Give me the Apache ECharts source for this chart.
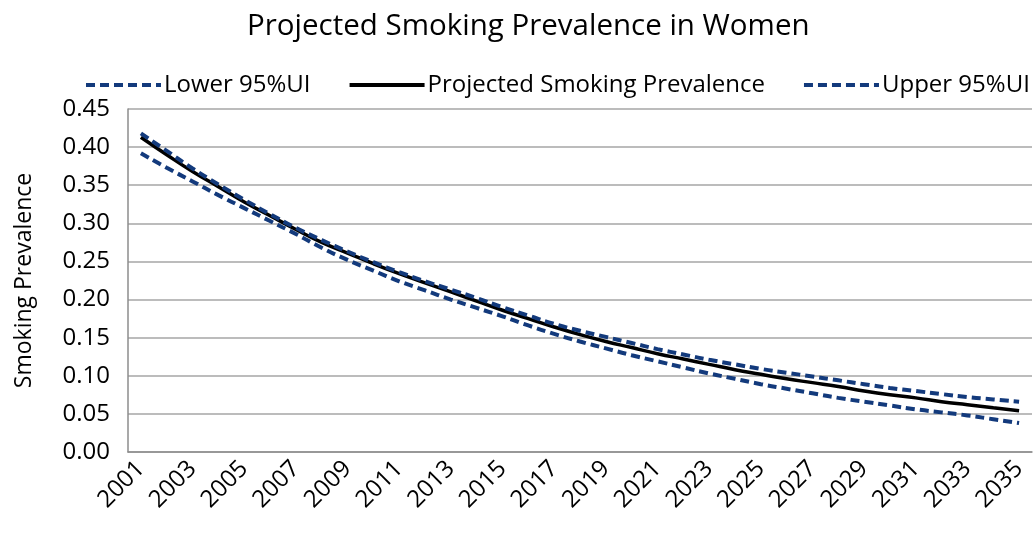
<!DOCTYPE html>
<html>
<head>
<meta charset="utf-8">
<script src="https://cdn.jsdelivr.net/npm/echarts@6/dist/echarts.min.js"></script>
<style>html,body{margin:0;padding:0;background:#fff}#c{width:1034px;height:536px}</style>
</head>
<body>
<div id="c"></div>
<script>
const years = ['2001','2002','2003','2004','2005','2006','2007','2008','2009','2010','2011','2012','2013','2014','2015','2016','2017','2018','2019','2020','2021','2022','2023','2024','2025','2026','2027','2028','2029','2030','2031','2032','2033','2034','2035'];
const lower = [0.392,0.373,0.355,0.337,0.320,0.303,0.286,0.268,0.252,0.238,0.224,0.212,0.200,0.189,0.178,0.166,0.155,0.145,0.136,0.127,0.119,0.111,0.103,0.096,0.089,0.083,0.077,0.071,0.066,0.061,0.056,0.052,0.048,0.043,0.038];
const projected = [0.413,0.390,0.368,0.348,0.328,0.310,0.292,0.275,0.261,0.247,0.234,0.222,0.210,0.198,0.186,0.175,0.164,0.154,0.145,0.137,0.129,0.122,0.115,0.108,0.102,0.096,0.091,0.086,0.080,0.075,0.071,0.066,0.062,0.058,0.054];
const upper = [0.418,0.395,0.372,0.351,0.331,0.312,0.294,0.278,0.263,0.249,0.236,0.224,0.213,0.202,0.190,0.179,0.168,0.159,0.151,0.143,0.135,0.128,0.121,0.115,0.109,0.104,0.099,0.094,0.089,0.084,0.080,0.076,0.072,0.069,0.066];
const yTicks = ['0.00','0.05','0.10','0.15','0.20','0.25','0.30','0.35','0.40','0.45'];

const FONT = 'Open Sans';
const navy = '#133a7c';
const chart = echarts.init(document.getElementById('c'));
chart.setOption({
  animation: false,
  backgroundColor: '#fff',
  title: {
    text: 'Projected Smoking Prevalence in Women',
    left: 242, top: 7,
    textStyle: {fontFamily: FONT, fontSize: 29.5, fontWeight: 'normal', color: '#000'}
  },
  legend: {
    top: 73, left: 84, width: 950, padding: 0, itemGap: 37, itemWidth: 75, itemHeight: 12,
    itemStyle: {opacity: 0},
    lineStyle: {width: 4},
    textStyle: {fontFamily: FONT, fontSize: 24, color: '#000', padding: [0, 0, 0, -2]},
    data: ['Lower 95%UI', 'Projected Smoking Prevalence', 'Upper 95%UI']
  },
  grid: {left: 128, right: 2, top: 109, bottom: 84, containLabel: false},
  xAxis: {
    type: 'category', data: years, boundaryGap: true,
    axisLine: {lineStyle: {color: '#8c8c8c', width: 1.5}},
    axisTick: {show: false},
    axisLabel: {interval: 1, rotate: 45, fontFamily: FONT, fontSize: 24, color: '#000', margin: 13}
  },
  yAxis: {
    type: 'value', min: 0, max: 0.45, interval: 0.05,
    name: 'Smoking Prevalence', nameLocation: 'middle', nameGap: 92,
    nameTextStyle: {fontFamily: FONT, fontSize: 23, color: '#000'},
    axisLine: {show: true, lineStyle: {color: '#8c8c8c', width: 1.5}},
    axisTick: {show: false},
    splitLine: {lineStyle: {color: '#a6a6a6', width: 1.5}},
    axisLabel: {fontFamily: FONT, fontSize: 24, color: '#000', margin: 18,
      formatter: v => yTicks[Math.round(v / 0.05)]}
  },
  series: [
    {name: 'Lower 95%UI', type: 'line', data: lower, showSymbol: false, symbol: 'none', smooth: true,
     lineStyle: {color: navy, width: 4, type: [9, 5]}, itemStyle: {color: navy}},
    {name: 'Projected Smoking Prevalence', type: 'line', data: projected, showSymbol: false, symbol: 'none', smooth: true,
     lineStyle: {color: '#000', width: 3.5}, itemStyle: {color: '#000'}},
    {name: 'Upper 95%UI', type: 'line', data: upper, showSymbol: false, symbol: 'none', smooth: true,
     lineStyle: {color: navy, width: 4, type: [9, 5]}, itemStyle: {color: navy}}
  ]
});
</script>
</body>
</html>
